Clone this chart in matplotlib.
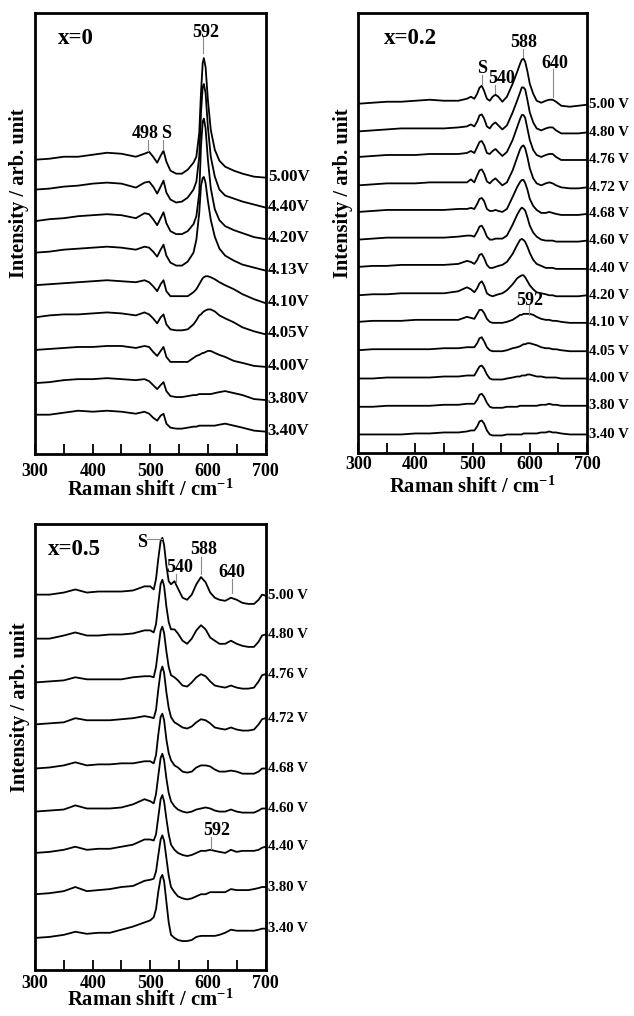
import matplotlib
matplotlib.use('Agg')
import matplotlib.pyplot as plt
import matplotlib.ticker as ticker
import numpy as np

# ── Data (intensity in arb. unit, relative to the start of each trace) ───────

SHIFT_X0 = [300, 325, 350, 375, 400, 425, 450, 475, 490, 498, 505, 512, 518, 523, 528,
            535, 545, 555, 565, 575, 580, 585, 588, 591, 593, 596, 600, 605, 612, 620,
            630, 645, 660, 680, 700]
VOLTS_X0 = ['5.00V', '4.40V', '4.20V', '4.13V', '4.10V', '4.05V', '4.00V', '3.80V', '3.40V']
OFFSET_X0 = [295, 265, 233.3, 201.7, 169, 136.7, 104, 70.7, 39]
SPEC_X0 = [
    [0, 1, 3, 3, 5, 7, 6, 3, 6, 8, 3, -3, 4, 9, -2, -11, -14, -14, -10, -3,
     3, 27, 67, 97, 102, 93, 60, 30, 10, -1, -7, -11, -14, -17, -18],
    [0, 1, 3, 4, 6, 7, 6, 2, 7, 8, 3, -4, 3, 9, -3, -10, -13, -12, -8, 0,
     8, 33, 77, 103, 106, 97, 63, 33, 13, 0, -6, -9, -12, -15, -18],
    [0, 2, 3, 5, 6, 7, 6, 3, 8, 7, 2, -4, 3, 9, -2, -10, -13, -13, -10, -3,
     5, 28, 75, 100, 103, 93, 62, 33, 12, 1, -5, -9, -12, -16, -18],
    [0, 1, 3, 4, 5, 6, 5, 3, 6, 5, 1, -4, 3, 8, -3, -10, -13, -13, -9, 0,
     13, 40, 67, 75, 76, 70, 52, 33, 16, 4, -3, -8, -12, -15, -18],
    [0, 1, 2, 3, 4, 5, 4, 3, 5, 3, -1, -6, 1, 5, -6, -11, -11, -11, -11, -7,
     -4, 1, 4, 7, 8, 9, 9, 8, 6, 3, 0, -4, -9, -14, -18],
    [0, 2, 3, 3, 4, 5, 4, 2, 5, 3, -1, -6, 0, 3, -7, -12, -13, -13, -12, -7,
     -3, 2, 3, 5, 6, 7, 8, 8, 6, 2, -1, -5, -10, -14, -17],
    [0, 1, 2, 3, 3, 4, 4, 2, 4, 3, -2, -6, -1, 3, -7, -12, -12, -12, -12, -8,
     -6, -5, -4, -3, -3, -2, -1, -1, -3, -5, -7, -11, -13, -16, -17],
    [0, 1, 3, 4, 4, 5, 4, 3, 4, 2, -2, -6, -2, 1, -8, -13, -14, -14, -13, -12,
     -12, -11, -11, -11, -11, -11, -11, -11, -10, -9, -8, -10, -12, -16, -17],
    [0, 0, 2, 4, 3, 4, 3, 1, 3, 1, -3, -6, -1, 1, -9, -13, -14, -14, -13, -12,
     -12, -11, -11, -11, -11, -11, -11, -11, -11, -10, -9, -11, -13, -16, -17],
]

SHIFT_X02 = [300, 325, 350, 375, 400, 425, 450, 475, 490, 497, 503, 508, 512, 516, 520,
             525, 530, 535, 540, 545, 552, 560, 570, 578, 583, 586, 589, 592, 596, 600,
             606, 612, 620, 628, 634, 640, 646, 655, 670, 685, 700]
VOLTS_X02 = ['5.00 V', '4.80 V', '4.76 V', '4.72 V', '4.68 V', '4.60 V', '4.40 V',
             '4.20 V', '4.10 V', '4.05 V', '4.00 V', '3.80 V', '3.40 V']
OFFSET_X02 = [350, 322.3, 296.7, 268.3, 241.7, 214, 186.7, 158.3, 131.7, 103.3, 75, 46.7, 19]
SPEC_X02 = [
    [0, 1, 2, 2, 3, 4, 3, 3, 5, 7, 5, 10, 16, 18, 13, 5, 3, 7, 9, 7,
     2, 7, 20, 32, 40, 44, 45, 42, 32, 20, 10, 3, 1, 3, 4, 4, 2, -2, -3, -2, -1],
    [0, 1, 2, 3, 3, 3, 3, 4, 5, 7, 5, 10, 16, 17, 13, 5, 3, 7, 9, 6,
     2, 6, 19, 31, 39, 44, 44, 42, 31, 19, 9, 3, 1, 3, 4, 4, 1, -2, -2, -2, -1],
    [0, 1, 2, 2, 2, 3, 3, 3, 4, 6, 4, 10, 15, 16, 12, 4, 3, 6, 8, 5,
     1, 5, 17, 30, 38, 42, 42, 39, 28, 17, 7, 2, 0, 2, 3, 3, 0, -3, -3, -3, -3],
    [0, 1, 2, 2, 2, 3, 3, 3, 3, 6, 3, 10, 15, 16, 12, 4, 2, 5, 7, 4,
     0, 3, 15, 28, 36, 39, 40, 37, 28, 17, 7, 2, 0, 2, 3, 2, 0, -2, -3, -3, -2],
    [0, 1, 2, 2, 2, 2, 2, 3, 3, 4, 3, 8, 13, 14, 11, 3, 1, 1, 2, 1,
     0, 3, 15, 25, 30, 32, 32, 29, 22, 13, 6, 2, -1, -1, 0, -1, -2, -3, -3, -3, -2],
    [0, 1, 2, 2, 2, 2, 2, 3, 4, 4, 3, 8, 13, 14, 10, 3, 0, 0, 1, 1,
     1, 4, 15, 25, 30, 32, 31, 29, 22, 14, 7, 3, 0, -1, -1, -1, -2, -2, -2, -2, -1],
    [0, 1, 1, 2, 2, 2, 2, 3, 6, 5, 3, 7, 12, 13, 9, 2, -1, -1, 0, 1,
     2, 5, 13, 22, 27, 28, 27, 25, 20, 14, 7, 3, 1, -1, -1, -1, -2, -2, -2, -2, -2],
    [0, 1, 1, 2, 2, 2, 2, 4, 8, 6, 3, 7, 12, 14, 10, 2, 0, -1, 0, 1,
     2, 5, 11, 17, 19, 20, 20, 18, 14, 10, 6, 3, 2, 1, 0, 0, -1, -1, -1, -1, 0],
    [0, 1, 1, 1, 2, 2, 2, 2, 5, 4, 3, 8, 12, 12, 9, 3, 0, -1, -1, -1,
     -1, 0, 2, 5, 7, 7, 8, 8, 8, 8, 7, 5, 3, 2, 2, 1, 1, 0, -1, -1, -1],
    [0, 1, 1, 1, 1, 1, 2, 2, 3, 3, 3, 7, 12, 13, 9, 3, 0, -1, -1, -1,
     -1, 0, 2, 3, 4, 5, 6, 6, 7, 7, 6, 5, 3, 2, 2, 1, 1, 0, -1, -1, -1],
    [0, 0, 1, 1, 1, 1, 2, 2, 3, 3, 3, 8, 12, 13, 10, 4, 0, -1, -1, -1,
     -1, 0, 1, 2, 2, 3, 3, 3, 4, 4, 3, 2, 2, 1, 1, 1, 1, 0, 0, 0, 0],
    [0, 0, 1, 1, 1, 1, 2, 2, 3, 3, 3, 7, 12, 13, 10, 4, 0, -1, -1, -1,
     -1, 0, 0, 0, 1, 1, 1, 1, 1, 1, 1, 1, 2, 2, 3, 2, 2, 1, 1, 1, 1],
    [0, 0, 0, 0, 1, 1, 2, 2, 3, 4, 4, 8, 13, 14, 11, 4, 0, -1, -1, -1,
     -1, 0, 0, 0, 0, 0, 1, 1, 1, 1, 1, 1, 2, 2, 3, 2, 2, 1, 0, 0, 0],
]

SHIFT_X05 = [300, 325, 350, 370, 390, 410, 430, 450, 470, 490, 500, 506, 510, 514, 518,
             521, 524, 528, 532, 536, 542, 548, 556, 564, 572, 580, 588, 596, 604, 612,
             620, 630, 640, 650, 660, 670, 680, 688, 694, 700]
VOLTS_X05 = ['5.00 V', '4.80 V', '4.76 V', '4.72 V', '4.68 V', '4.60 V', '4.40 V',
             '3.80 V', '3.40 V']
OFFSET_X05 = [363.3, 320.7, 278.3, 237.7, 195, 153.3, 113.3, 73.3, 31]
SPEC_X05 = [
    [0, 0, 2, 5, 2, 3, 3, 3, 4, 8, 8, 5, 15, 35, 52, 55, 48, 28, 13, 10,
     13, 6, -3, -5, 0, 10, 17, 12, 2, -3, -5, -6, -3, -5, -8, -9, -9, -5, 0, -1],
    [0, 0, 3, 6, 3, 3, 4, 4, 5, 8, 8, 6, 14, 34, 53, 57, 51, 31, 16, 9,
     9, 5, -2, -5, 0, 8, 13, 9, 1, -2, -5, -5, -2, -5, -7, -8, -8, -3, 3, 4],
    [0, 1, 2, 5, 3, 3, 3, 3, 5, 6, 6, 5, 15, 33, 50, 54, 48, 30, 15, 7,
     5, 2, -3, -4, 0, 5, 8, 6, 1, -3, -4, -5, -3, -5, -6, -6, -5, 1, 7, 8],
    [0, 1, 2, 6, 4, 4, 4, 5, 6, 8, 7, 6, 14, 34, 51, 56, 50, 31, 16, 7,
     2, 0, -3, -4, -2, 2, 5, 4, 1, -3, -4, -5, -3, -5, -6, -6, -5, 0, 5, 6],
    [0, 1, 3, 6, 3, 4, 4, 5, 5, 7, 7, 5, 13, 33, 50, 53, 47, 28, 15, 8,
     3, 1, -3, -4, -3, 1, 3, 3, 2, -1, -3, -3, -2, -3, -5, -5, -5, -3, 0, 0],
    [0, 1, 2, 6, 3, 3, 3, 4, 7, 12, 10, 8, 17, 35, 52, 56, 50, 32, 18, 10,
     5, 2, 0, -1, 0, 2, 3, 4, 3, 1, 0, 0, 2, 0, -1, -1, -1, 1, 3, 3],
    [0, 1, 3, 6, 3, 4, 4, 6, 8, 13, 13, 12, 18, 35, 52, 56, 50, 33, 18, 8,
     3, 0, -2, -3, -2, 0, 2, 2, 3, 2, 1, 0, 3, 1, 2, 2, 2, 3, 5, 6],
    [0, 1, 3, 7, 3, 4, 5, 7, 8, 13, 14, 15, 22, 38, 53, 57, 52, 35, 18, 7,
     2, -2, -4, -5, -4, -2, 0, 0, 2, 2, 2, 2, 5, 4, 4, 4, 5, 6, 7, 7],
    [0, 1, 3, 6, 4, 5, 5, 8, 11, 15, 17, 20, 28, 45, 58, 61, 55, 35, 15, 3,
     0, -2, -3, -3, -2, 1, 2, 2, 2, 2, 3, 5, 8, 7, 7, 7, 7, 8, 9, 9],
]

# ── Style ─────────────────────────────────────────────────────────────────────

plt.rcParams['font.family'] = ['Liberation Serif', 'DejaVu Serif']
plt.rcParams['font.weight'] = 'bold'
plt.rcParams['mathtext.fontset'] = 'custom'
plt.rcParams['mathtext.rm'] = 'Liberation Serif:bold'
plt.rcParams['mathtext.it'] = 'Liberation Serif:bold'
plt.rcParams['mathtext.bf'] = 'Liberation Serif:bold'

GUIDE = '#8a8a8a'


def peak_label(ax, text, tx, ty, lx=None, y0=None, y1=None, size=13):
    ax.text(tx, ty, text, ha='center', va='center', fontsize=size, fontweight='bold')
    if lx is not None:
        ax.plot([lx, lx], [y0, y1], color=GUIDE, lw=0.8)


def draw_panel(ax, shift, spectra, offsets, volts, ytop, vsize, vdy, tpad, title, title_x):
    for spec, off, v in zip(spectra, offsets, volts):
        y = np.array(spec, dtype=float) + off
        ax.plot(shift, y, color='black', lw=1.3)
        ax.text(1.01, y[-1] + vdy, v, transform=ax.get_yaxis_transform(),
                ha='left', va='center', fontsize=vsize, fontweight='bold')

    ax.set_xlim(300, 700)
    ax.set_ylim(0, ytop)
    ax.set_yticks([])
    ax.xaxis.set_major_locator(ticker.MultipleLocator(100))
    ax.xaxis.set_minor_locator(ticker.MultipleLocator(50))
    ax.tick_params(axis='x', which='both', direction='in', length=7, width=1.3,
                   labelsize=13, pad=tpad)
    for s in ax.spines.values():
        s.set_linewidth(2.0)

    ax.set_xlabel(r'Raman shift / cm$^{-1}$', fontsize=14.8, fontweight='bold')
    ax.set_ylabel('Intensity / arb. unit', fontsize=14.8, fontweight='bold')
    ax.text(title_x, ytop * 0.943, title, ha='left', va='center',
            fontsize=16.5, fontweight='bold')


fig = plt.figure(figsize=(6.34, 10.16), dpi=100)

# ── Panel x=0 ─────────────────────────────────────────────────────────────────
ax1 = fig.add_axes([0.0552, 0.5536, 0.3636, 0.4336])
draw_panel(ax1, SHIFT_X0, SPEC_X0, OFFSET_X0, VOLTS_X0, 442.3, 12.2, 1, 7, 'x=0', 340)
peak_label(ax1, '592', 597, 423, 592, 418, 401.7)
peak_label(ax1, '498', 491, 321.7, 496.5, 315, 303.3)
peak_label(ax1, 'S', 528, 321.7, 522.5, 315, 305)
ax1.xaxis.set_label_coords(0.5, -0.06)
ax1.yaxis.set_label_coords(-0.025, 0.59)

# ── Panel x=0.2 ───────────────────────────────────────────────────────────────
ax2 = fig.add_axes([0.5651, 0.5537, 0.3607, 0.4334])
draw_panel(ax2, SHIFT_X02, SPEC_X02, OFFSET_X02, VOLTS_X02, 440.7, 10.6, 0, 2, 'x=0.2', 345)
peak_label(ax2, 'S', 516, 385, 516, 378.3, 368.3)
peak_label(ax2, '540', 551, 375, 540, 368.3, 360.7)
peak_label(ax2, '588', 590, 411.7, 588, 405, 396.7)
peak_label(ax2, '640', 644, 390.7, 640, 385, 356.7)
peak_label(ax2, '592', 600, 153.3, 598, 148.3, 138.3)
ax2.xaxis.set_label_coords(0.5, -0.053)
ax2.yaxis.set_label_coords(-0.023, 0.59)

# ── Panel x=0.5 ───────────────────────────────────────────────────────────────
ax3 = fig.add_axes([0.0552, 0.0453, 0.3636, 0.4390])
draw_panel(ax3, SHIFT_X05, SPEC_X05, OFFSET_X05, VOLTS_X05, 431.7, 10.6, 0, 3.6, 'x=0.5', 323)
peak_label(ax3, 'S', 485, 413.3)
ax3.plot([494.8, 519.7], [416.7, 416.7], color=GUIDE, lw=0.8)
peak_label(ax3, '540', 551, 390, 544, 383.3, 375)
peak_label(ax3, '588', 593, 406.7, 588, 400, 383.3)
peak_label(ax3, '640', 642, 385, 641, 378.3, 365)
peak_label(ax3, '592', 616, 135, 605, 128.3, 116.7)
ax3.xaxis.set_label_coords(0.5, -0.045)
ax3.yaxis.set_label_coords(-0.022, 0.59)

fig.savefig('out.png', dpi=100)
print("Saved out.png")
